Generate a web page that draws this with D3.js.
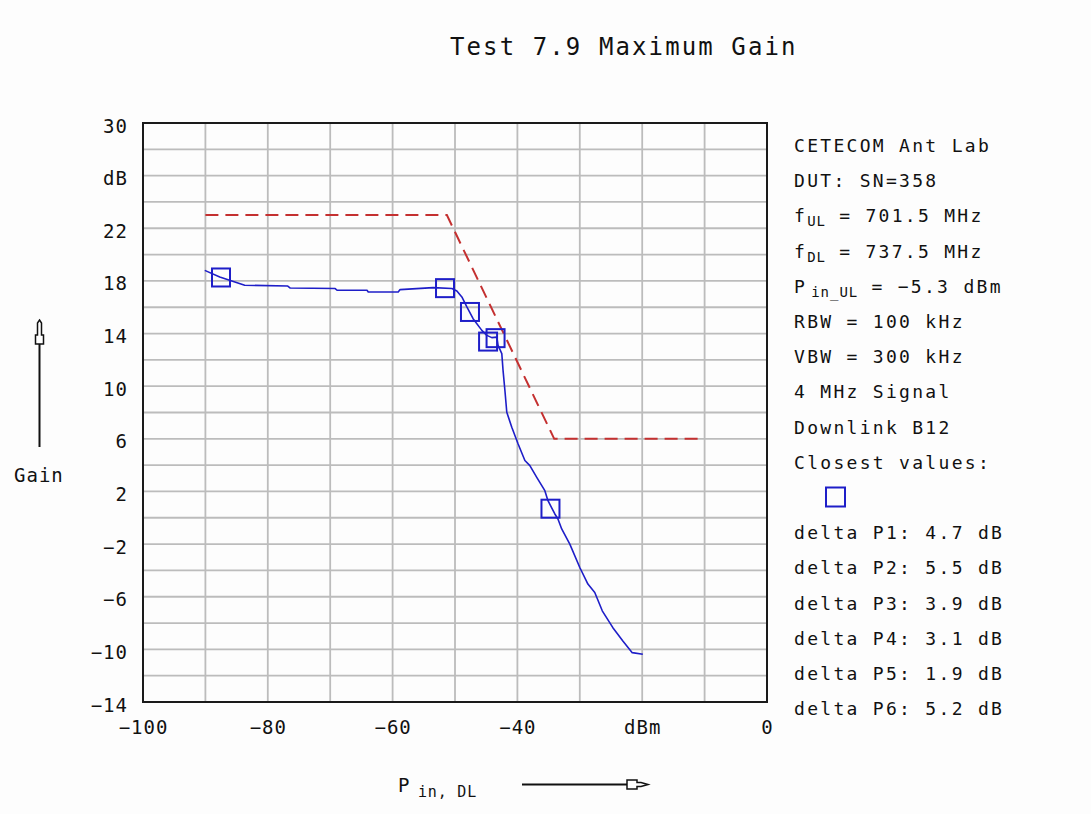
<!DOCTYPE html>
<html>
<head>
<meta charset="utf-8">
<script src="https://cdn.jsdelivr.net/npm/d3@7"></script>
<style>
  html, body { margin: 0; padding: 0; background: #ffffff; }
  svg { display: block; }
  text { font-family: "DejaVu Sans Mono", "Liberation Mono", monospace; fill: #111; }
</style>
</head>
<body>
<svg id="chart" width="1091" height="814"></svg>
<script>
// ---------------- data ----------------
const titleText = "Test 7.9 Maximum Gain";

const xDomain = [-100, 0];
const yDomain = [-14, 30];

const xTicks = [-100, -80, -60, -40, -20, 0];
const xTickLabels = ["\u2212100", "\u221280", "\u221260", "\u221240", "dBm", "0"];
const yTicks = [30, 26, 22, 18, 14, 10, 6, 2, -2, -6, -10, -14];
const yTickLabels = ["30", "dB", "22", "18", "14", "10", "6", "2", "\u22122", "\u22126", "\u221210", "\u221214"];

const xGrid = [-90, -80, -70, -60, -50, -40, -30, -20, -10];
const yGrid = [-12, -10, -8, -6, -4, -2, 0, 2, 4, 6, 8, 10, 12, 14, 16, 18, 20, 22, 24, 26, 28];

// measured gain curve (Pin dBm, gain dB)
const gainX = [-90.1, -87.7, -83.7, -76.8, -76.4, -69.2, -68.9, -64.1, -63.9, -59.1, -58.8, -53.5, -50.5, -49.7, -48.9,
               -48.1, -47.1, -45.7, -44.9, -44.1, -43.3, -43.1, -42.5, -42.3, -42.0, -41.7, -40.9, -39.9, -38.8, -38.0,
               -36.9, -35.6, -35.1, -34.0, -33.5, -32.9, -31.6, -30.0, -28.7, -27.6, -26.4, -24.7, -23.1, -21.6, -19.9];
const gainY = [18.8, 18.3, 17.67, 17.61, 17.46, 17.42, 17.29, 17.29, 17.16, 17.16, 17.34, 17.49, 17.42, 17.23, 16.78,
               16.02, 15.13, 14.24, 13.86, 13.69, 13.73, 13.10, 12.47, 11.20, 9.67, 8.02, 6.88, 5.62, 4.35, 3.96,
               3.07, 2.06, 1.30, 0.29, -0.09, -0.85, -2.00, -3.78, -5.04, -5.68, -7.07, -8.35, -9.36, -10.25, -10.37];

// closest values markers
const markerX = [-87.5, -51.6, -47.6, -44.7, -43.5, -34.7];
const markerY = [18.26, 17.45, 15.64, 13.39, 13.65, 0.69];

// limit line
const limitX = [-90, -51.3, -34.1, -10];
const limitY = [23, 23, 6, 6];

// legend text lines (segments: [text, isSubscript])
const legendLines = [
  [["CETECOM Ant Lab", false]],
  [["DUT: SN=358", false]],
  [["f", false], ["UL", true], [" = 701.5 MHz", false]],
  [["f", false], ["DL", true], [" = 737.5 MHz", false]],
  [["P", false], ["in_UL", true], [" = \u22125.3 dBm", false]],
  [["RBW = 100 kHz", false]],
  [["VBW = 300 kHz", false]],
  [["4 MHz Signal", false]],
  [["Downlink B12", false]],
  [["Closest values:", false]],
  null, // marker row
  [["delta P1: 4.7 dB", false]],
  [["delta P2: 5.5 dB", false]],
  [["delta P3: 3.9 dB", false]],
  [["delta P4: 3.1 dB", false]],
  [["delta P5: 1.9 dB", false]],
  [["delta P6: 5.2 dB", false]]
];

// ---------------- drawing ----------------
const svg = d3.select("#chart");
const L = 143, R = 767, T = 123, B = 702;
const x = d3.scaleLinear().domain(xDomain).range([L, R]);
const y = d3.scaleLinear().domain(yDomain).range([B, T]);

const blue = "#1e1ec8";
const red = "#c43030";
const gridCol = "#bcbcbc";

svg.append("rect").attr("width", 1091).attr("height", 814).attr("fill", "#fdfdfd");

// title
svg.append("text")
  .attr("x", 450).attr("y", 55)
  .attr("font-size", 24).attr("letter-spacing", 2.1)
  .text(titleText);

// grid
const grid = svg.append("g");
grid.selectAll("line.v").data(xGrid).join("line")
  .attr("x1", d => x(d)).attr("x2", d => x(d))
  .attr("y1", T).attr("y2", B)
  .attr("stroke", gridCol).attr("stroke-width", 1.8);
grid.selectAll("line.h").data(yGrid).join("line")
  .attr("y1", d => y(d)).attr("y2", d => y(d))
  .attr("x1", L).attr("x2", R)
  .attr("stroke", gridCol).attr("stroke-width", 1.8);

// frame
svg.append("rect")
  .attr("x", L).attr("y", T).attr("width", R - L).attr("height", B - T)
  .attr("fill", "none").attr("stroke", "#1a1a1a").attr("stroke-width", 2);

// axes (labels only)
const xAxis = d3.axisBottom(x).tickValues(xTicks)
  .tickFormat((d, i) => xTickLabels[i]).tickSize(0);
const gx = svg.append("g").attr("transform", `translate(0,${B})`).call(xAxis);
gx.select(".domain").remove();
gx.selectAll("text")
  .attr("y", 32).attr("dy", 0)
  .attr("fill", "#111")
  .style("font-family", "'DejaVu Sans Mono', monospace")
  .attr("font-size", 19).attr("letter-spacing", 1);

const yAxis = d3.axisLeft(y).tickValues(yTicks)
  .tickFormat((d, i) => yTickLabels[i]).tickSize(0);
const gy = svg.append("g").attr("transform", `translate(${L},0)`).call(yAxis);
gy.select(".domain").remove();
gy.selectAll("text")
  .attr("x", -15).attr("dy", 0).attr("y", 9)
  .attr("fill", "#111")
  .style("font-family", "'DejaVu Sans Mono', monospace")
  .attr("font-size", 19).attr("letter-spacing", 1);

// limit line
const limitData = limitX.map((v, i) => [v, limitY[i]]);
svg.append("path")
  .datum(limitData)
  .attr("d", d3.line().x(d => x(d[0])).y(d => y(d[1])))
  .attr("fill", "none").attr("stroke", red).attr("stroke-width", 2)
  .attr("stroke-dasharray", "13,7");

// gain curve
const gainData = gainX.map((v, i) => [v, gainY[i]]);
svg.append("path")
  .datum(gainData)
  .attr("d", d3.line().x(d => x(d[0])).y(d => y(d[1])))
  .attr("fill", "none").attr("stroke", blue).attr("stroke-width", 1.6)
  .attr("stroke-linejoin", "round");

// markers
const ms = 18;
const markerData = markerX.map((v, i) => [v, markerY[i]]);
svg.append("g").selectAll("rect").data(markerData).join("rect")
  .attr("x", d => x(d[0]) - ms / 2).attr("y", d => y(d[1]) - ms / 2)
  .attr("width", ms).attr("height", ms)
  .attr("fill", "none").attr("stroke", blue).attr("stroke-width", 2);

// legend
const lg = svg.append("g");
const lx = 794, ly0 = 152, lstep = 35.2;
legendLines.forEach((segs, i) => {
  const by = ly0 + i * lstep;
  if (segs === null) {
    lg.append("rect")
      .attr("x", 835.5 - 9.5).attr("y", by - 7 - 9.5)
      .attr("width", 19).attr("height", 19)
      .attr("fill", "none").attr("stroke", blue).attr("stroke-width", 2);
    return;
  }
  const t = lg.append("text").attr("x", lx).attr("y", by)
    .attr("font-size", 18).attr("letter-spacing", 2.3);
  segs.forEach(([s, sub], j) => {
    const ts = t.append("tspan").text(s);
    if (sub) {
      ts.attr("font-size", 14).attr("dy", 4).attr("letter-spacing", 1);
      if (s.length > 2) ts.attr("dx", 4);
    } else if (j > 0 && segs[j - 1][1]) {
      ts.attr("dy", -4);
    }
  });
});

// Gain axis label with arrow
svg.append("text").attr("x", 14).attr("y", 482)
  .attr("font-size", 19).attr("letter-spacing", 1).text("Gain");
svg.append("line").attr("x1", 39.5).attr("x2", 39.5).attr("y1", 447).attr("y2", 324)
  .attr("stroke", "#111").attr("stroke-width", 2);
svg.append("path")
  .attr("d", "M39.5,320 L41.5,323 L41.5,335 L43.5,335 L43.5,344 L35.5,344 L35.5,335 L37.5,335 L37.5,323 Z")
  .attr("fill", "#fff").attr("stroke", "#111").attr("stroke-width", 1.5);

// x axis label with arrow
const xl = svg.append("text").attr("x", 398).attr("y", 792).attr("font-size", 19);
xl.append("tspan").text("P");
xl.append("tspan").attr("x", 418).attr("dy", 5).attr("font-size", 15).attr("letter-spacing", 0.8).text("in, DL");
svg.append("line").attr("x1", 522).attr("x2", 628).attr("y1", 784.5).attr("y2", 784.5)
  .attr("stroke", "#111").attr("stroke-width", 2);
svg.append("path")
  .attr("d", "M648,784.5 L641,786.5 L637,786.5 L637,789 L627,789 L627,780 L637,780 L637,782.5 L641,782.5 Z")
  .attr("fill", "#fff").attr("stroke", "#111").attr("stroke-width", 1.5);
</script>
</body>
</html>
